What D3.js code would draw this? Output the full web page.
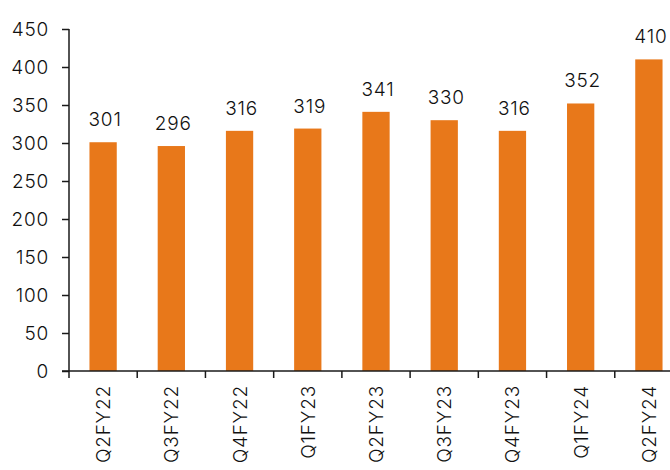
<!DOCTYPE html>
<html>
<head>
<meta charset="utf-8">
<script src="https://cdn.jsdelivr.net/npm/d3@7"></script>
<style>
  html, body { margin: 0; padding: 0; background: #fff; }
  svg { display: block; }
  text { font-family: "Inter", "Noto Sans", sans-serif; font-weight: 300; letter-spacing: 0.8px; fill: #111; }
</style>
</head>
<body>
<svg id="chart" width="670" height="470"></svg>
<script>
// Quarterly values
const quarters = ["Q2FY22", "Q3FY22", "Q4FY22", "Q1FY23", "Q2FY23", "Q3FY23", "Q4FY23", "Q1FY24", "Q2FY24"];
const values = [301, 296, 316, 319, 341, 330, 316, 352, 410];
const yTicks = [0, 50, 100, 150, 200, 250, 300, 350, 400, 450];

const barColor = "#E8781A";
const axisColor = "#1a1a1a";
const fontSize = "19px";

const svg = d3.select("#chart");
const plot = { left: 69, right: 683, top: 29, bottom: 371 };

const x = d3.scaleBand()
  .domain(quarters)
  .range([plot.left, plot.right])
  .paddingInner(0.6)
  .paddingOuter(0.3);

const y = d3.scaleLinear()
  .domain([0, 450])
  .range([plot.bottom, plot.top]);

// Y axis
const yAxis = svg.append("g")
  .attr("transform", `translate(${plot.left},0)`)
  .call(d3.axisLeft(y).tickValues(yTicks).tickSize(7).tickPadding(13).tickFormat(d3.format("d")));
yAxis.select(".domain").attr("stroke", axisColor).attr("stroke-width", 1.5).attr("d", `M0,${plot.top}V${plot.bottom}`);
yAxis.selectAll(".tick line").attr("stroke", axisColor).attr("stroke-width", 1.5);
yAxis.selectAll(".tick text").style("font-size", fontSize).attr("fill", "#111");

// Bars
svg.append("g").selectAll("rect")
  .data(values)
  .join("rect")
  .attr("x", (d, i) => x(quarters[i]))
  .attr("y", d => y(d))
  .attr("width", x.bandwidth())
  .attr("height", d => y(0) - y(d))
  .attr("fill", barColor);

// Value labels
svg.append("g").selectAll("text")
  .data(values)
  .join("text")
  .attr("x", (d, i) => x(quarters[i]) + x.bandwidth() / 2 + 2)
  .attr("y", d => y(d) - 16)
  .attr("text-anchor", "middle")
  .style("font-size", fontSize)
  .text(d => d);

// X axis: baseline, ticks at category boundaries, rotated labels
const step = x.step();
const xStart = x(quarters[0]) - step * x.paddingOuter();
const xg = svg.append("g").attr("transform", `translate(0,${plot.bottom})`);
xg.append("line")
  .attr("x1", plot.left - 7).attr("x2", 670)
  .attr("y1", 0).attr("y2", 0)
  .attr("stroke", axisColor).attr("stroke-width", 1.5);
xg.selectAll("line.tk")
  .data(d3.range(quarters.length + 1))
  .join("line")
  .attr("class", "tk")
  .attr("x1", i => xStart + i * step).attr("x2", i => xStart + i * step)
  .attr("y1", 0).attr("y2", 7)
  .attr("stroke", axisColor).attr("stroke-width", 1.5);
xg.selectAll("text")
  .data(quarters)
  .join("text")
  .attr("transform", d => `translate(${x(d) + x.bandwidth() / 2 + 7},14) rotate(-90)`)
  .attr("text-anchor", "end")
  .style("font-size", fontSize)
  .text(d => d);
</script>
</body>
</html>
